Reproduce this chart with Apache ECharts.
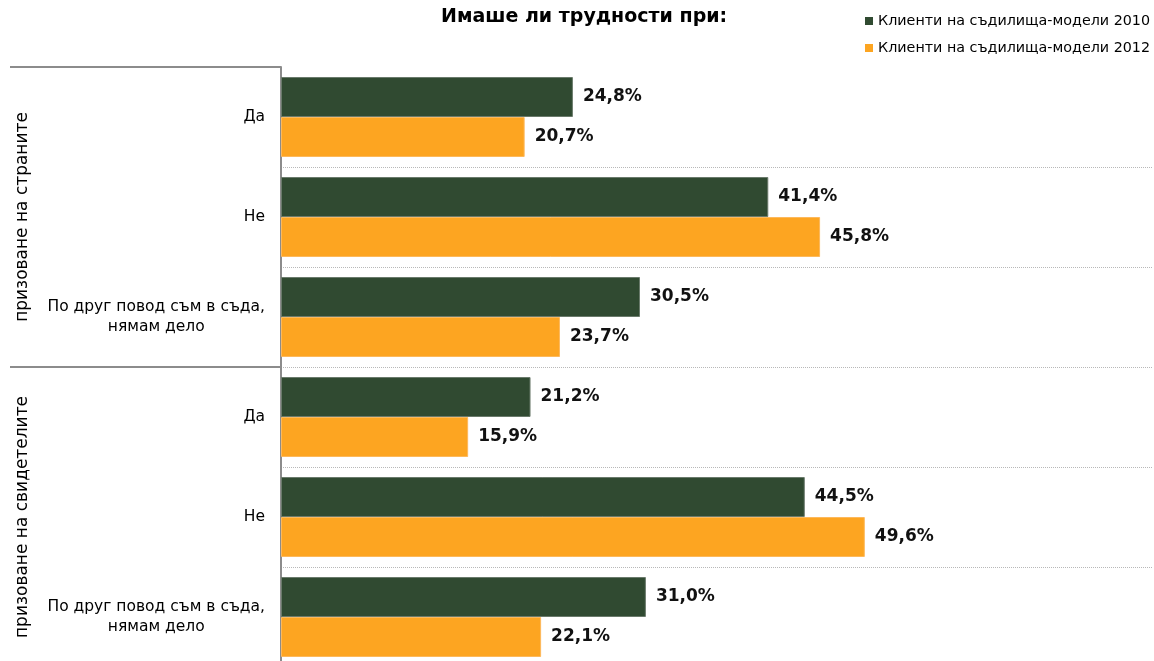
<!DOCTYPE html>
<html>
<head>
<meta charset="utf-8">
<script src="https://cdn.jsdelivr.net/npm/echarts@6/dist/echarts.min.js"></script>
<style>
  html, body { margin: 0; padding: 0; background: #fff; }
  #chart { width: 1154px; height: 661px; }
</style>
</head>
<body>
<div id="chart"></div>
<script>
var categories = ['Да', 'Не', 'По друг повод съм в съда,\nнямам дело', 'Да', 'Не', 'По друг повод съм в съда,\nнямам дело'];
var groups = ['призоване на страните', 'призоване на свидетелите'];
var seriesNames = ['Клиенти на съдилища-модели 2010', 'Клиенти на съдилища-модели 2012'];
var values2010 = [24.8, 41.4, 30.5, 21.2, 44.5, 31.0];
var values2012 = [20.7, 45.8, 23.7, 15.9, 49.6, 22.1];

var fontFam = 'DejaVu Sans';

function makeSeries(name, data, color, edge) {
    return {
        name: name,
        type: 'bar',
        yAxisIndex: 0,
        barWidth: 40,
        barGap: 0,
        itemStyle: { color: color, borderColor: edge, borderWidth: 1 },
        label: {
            show: true,
            position: 'right',
            distance: 10,
            fontFamily: fontFam,
            fontWeight: 'bold',
            fontSize: 17,
            color: '#111',
            formatter: function (p) {
                return p.value.toFixed(1).replace('.', ',') + '%';
            }
        },
        data: data
    };
}

var myChart = echarts.init(document.getElementById('chart'));
var option = {
    animation: false,
    title: {
        text: 'Имаше ли трудности при:',
        left: 436,
        top: 3,
        textStyle: { fontFamily: fontFam, fontWeight: 'bold', fontSize: 19, color: '#000' }
    },
    legend: {
        orient: 'vertical',
        left: 860,
        top: 9,
        itemWidth: 8,
        itemHeight: 8,
        itemGap: 13,
        icon: 'rect',
        itemStyle: { borderWidth: 0 },
        textStyle: { fontFamily: fontFam, fontSize: 14.3, color: '#000' },
        data: seriesNames
    },
    grid: { left: 281, right: 2, top: 67, height: 600, outerBoundsMode: 'none', containLabel: false },
    xAxis: {
        type: 'value',
        min: 0,
        max: 74,
        show: false
    },
    yAxis: [
        {
            type: 'category',
            data: categories,
            inverse: true,
            axisLine: { show: true, lineStyle: { color: '#8c8c8c', width: 2 } },
            axisTick: { show: false },
            axisLabel: {
                margin: 16,
                interval: 0,
                formatter: function (v) {
                    return v.split('\n').map(function (s) { return '{c|' + s + '}'; }).join('\n');
                },
                rich: {
                    c: { fontFamily: fontFam, fontSize: 15.5, color: '#000', align: 'center', lineHeight: 20 }
                }
            },
            splitLine: {
                show: true,
                interval: function (index) { return index > 0; },
                lineStyle: { type: 'dotted', color: '#b8b8b8', width: 1 }
            }
        },
        {
            type: 'category',
            data: groups,
            inverse: true,
            position: 'left',
            axisLine: { show: false },
            axisTick: { show: true, interval: 0, length: 271, lineStyle: { color: '#8c8c8c', width: 2 } },
            axisLabel: { fontFamily: fontFam, fontSize: 17, color: '#000', rotate: 90, margin: 250, interval: 0 },
            splitLine: { show: false }
        }
    ],
    series: [
        makeSeries(seriesNames[0], values2010, '#304a31', '#6a7a6b'),
        makeSeries(seriesNames[1], values2012, '#fda521', '#fdb95c')
    ]
};
myChart.setOption(option);
</script>
</body>
</html>
